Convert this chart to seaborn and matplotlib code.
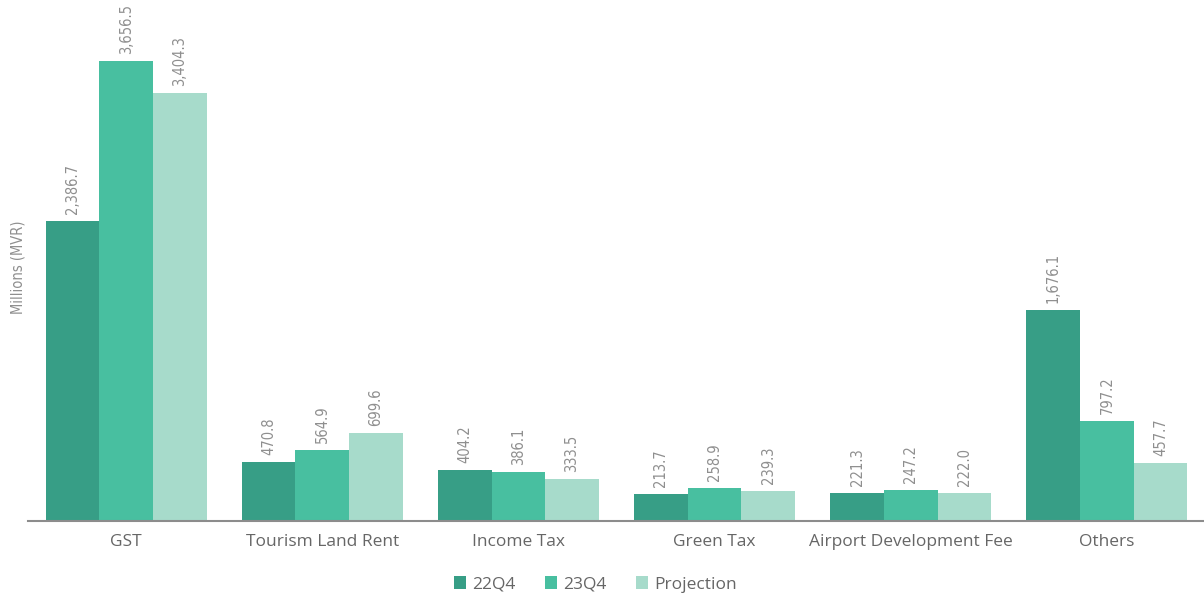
import matplotlib
matplotlib.use("Agg")
import matplotlib.pyplot as plt
import seaborn as sns
import pandas as pd
import numpy as np

categories = ["GST", "Tourism Land Rent", "Income Tax", "Green Tax",
              "Airport Development Fee", "Others"]
series_names = ["22Q4", "23Q4", "Projection"]
vals_22q4 = [2386.7, 470.8, 404.2, 213.7, 221.3, 1676.1]
vals_23q4 = [3656.5, 564.9, 386.1, 258.9, 247.2, 797.2]
vals_proj = [3404.3, 699.6, 333.5, 239.3, 222.0, 457.7]
colors = ["#379E86", "#48BFA0", "#A7DBCB"]

df = pd.DataFrame({
    "Category": categories * 3,
    "Series": [s for s in series_names for _ in categories],
    "Value": vals_22q4 + vals_23q4 + vals_proj,
})

sns.set_theme(style="white")
plt.rcParams["font.family"] = ["Open Sans", "DejaVu Sans"]

fig = plt.figure(figsize=(12.04, 5.97), dpi=100)
ax = fig.add_axes([28 / 1204, 76 / 597, 1177 / 1204, 521 / 597])

sns.barplot(data=df, x="Category", y="Value", hue="Series", order=categories,
            hue_order=series_names, palette=colors, width=0.82, saturation=1,
            linewidth=0, ax=ax, legend=True)

for cont in ax.containers:
    ax.bar_label(cont, labels=[f"{v:,.1f}" for v in cont.datavalues],
                 rotation=90, padding=5, color="#8f8f8f", fontsize=10.5,
                 family="DejaVu Sans", fontstretch="condensed")

ax.set_ylim(0, 4141)
ax.set_xlim(-0.5, len(categories) - 0.5)
ax.set_yticks([])
ax.set_xlabel("")
ax.set_ylabel("Millions (MVR)", color="#8f8f8f", fontsize=10.5,
              family="DejaVu Sans", fontstretch="condensed")
ax.yaxis.set_label_coords(-0.0017, 0.4875)

for s in ["top", "right", "left"]:
    ax.spines[s].set_visible(False)
ax.spines["bottom"].set_color("#8c8c8c")
ax.spines["bottom"].set_linewidth(1.5)

ax.set_xticks(np.arange(len(categories)))
ax.set_xticklabels(categories, color="#666666", fontsize=12.5)
ax.tick_params(axis="x", which="major", length=0, pad=9)
ax.set_xticks(np.arange(len(categories) + 1) - 0.5, minor=True)
ax.tick_params(axis="x", which="minor", length=5, width=1, color="#8c8c8c",
               direction="out")

handles, labels = ax.get_legend_handles_labels()
ax.legend(handles, labels, loc="center", bbox_to_anchor=(0.482, -0.122),
          ncol=3, frameon=False, fontsize=12.5, handlelength=0.7,
          handleheight=0.7, handletextpad=0.35, columnspacing=1.7,
          labelcolor="#666666")

fig.savefig("out.png", dpi=100)
